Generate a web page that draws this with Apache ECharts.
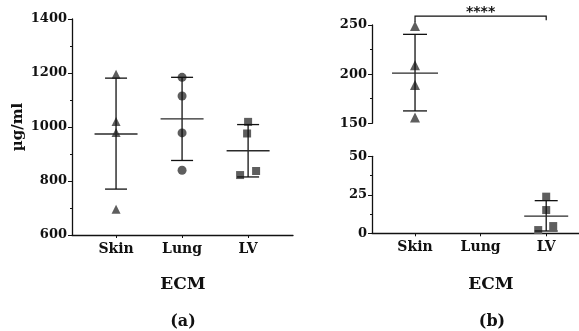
<!DOCTYPE html>
<html>
<head>
<meta charset="utf-8">
<script src="https://cdn.jsdelivr.net/npm/echarts@6/dist/echarts.min.js"></script>
<style>
html,body{margin:0;padding:0;background:#fff;}
#c{width:579px;height:331px;}
</style>
</head>
<body>
<div id="c"></div>
<script>
// ---- data ----
var categories = ['Skin', 'Lung', 'LV'];
// Panel (a) — µg/ml
var aSkin = [1195, 1020, 980, 695];
var aLung = [1184, 1115, 978, 840];
var aLV   = [1019, 976, 822, 837];
var aMean = [974, 1030, 912];
var aLow  = [770, 876, 815];
var aHigh = [1181, 1184, 1009];
var aTicks = [600, 800, 1000, 1200, 1400];
// Panel (b)
var bSkin = [249, 209, 189, 156];
var bLV   = [23.8, 15.1, 4.7, 2.1];
var bMean = [201, null, 11.2];
var bLow  = [162.6, null, 1.5];
var bHigh = [240.5, null, 21.2];
var bTicksUpper = [150, 200, 250];
var bTicksLower = [0, 25, 50];
var sigLabel = '****';
var sigLevel = 259;

// ---- styles ----
var FONT = 'DejaVu Serif';
var markerColor = '#5e5e5e';
var lineColor = '#111';
var aLVoffset = [0, -1, -8, 8];
var bLVoffset = [0, 0, 7, -8];

function pts(catIdx, vals, offs) {
  return vals.map(function (v, i) {
    var d = { value: [catIdx + 1, v] };
    if (offs) d.symbolOffset = [offs[i], 0];
    return d;
  });
}
function errData(means, lows, highs) {
  var out = [];
  means.forEach(function (m, i) {
    if (m == null) return;
    out.push([i + 1, m, lows[i], highs[i]]);
  });
  return out;
}
function errRender(capHalf, meanHalf) {
  return function (params, api) {
    var x = api.value(0);
    var pm = api.coord([x, api.value(1)]);
    var pl = api.coord([x, api.value(2)]);
    var ph = api.coord([x, api.value(3)]);
    var st = { stroke: lineColor, lineWidth: 1.3 };
    return {
      type: 'group',
      children: [
        { type: 'line', shape: { x1: pl[0], y1: pl[1], x2: ph[0], y2: ph[1] }, style: st },
        { type: 'line', shape: { x1: pl[0] - capHalf, y1: pl[1], x2: pl[0] + capHalf, y2: pl[1] }, style: st },
        { type: 'line', shape: { x1: ph[0] - capHalf, y1: ph[1], x2: ph[0] + capHalf, y2: ph[1] }, style: st },
        { type: 'line', shape: { x1: pm[0] - meanHalf, y1: pm[1], x2: pm[0] + meanHalf, y2: pm[1] }, style: { stroke: '#2a2a2a', lineWidth: 1.3 } }
      ]
    };
  };
}

var labelStyle = { fontFamily: FONT, fontWeight: 'bold', fontSize: 13, color: '#111' };
function xAxisCfg(grid, min, max, show) {
  return {
    type: 'value', gridIndex: grid, min: min, max: max, show: show,
    splitLine: { show: false },
    axisLine: { show: true, lineStyle: { color: lineColor, width: 1.3 } },
    axisTick: { show: true, customValues: [1, 2, 3], length: 3, lineStyle: { color: lineColor } },
    axisLabel: Object.assign({}, labelStyle, { customValues: [1, 2, 3], margin: 7, fontSize: 14,
      formatter: function (v) { return categories[Math.round(v) - 1]; } })
  };
}
function yAxisCfg(grid, ticks, extra) {
  return Object.assign({
    type: 'value', gridIndex: grid, min: ticks[0], max: ticks[ticks.length - 1],
    interval: ticks[1] - ticks[0],
    splitLine: { show: false },
    axisLine: { show: true, lineStyle: { color: lineColor, width: 1.3 } },
    axisTick: { show: true, length: 4, lineStyle: { color: lineColor } },
    minorTick: { show: true, splitNumber: 2, length: 2, lineStyle: { color: lineColor } },
    axisLabel: Object.assign({}, labelStyle, { margin: 5, formatter: function (v) { return String(v); } })
  }, extra || {});
}

var chart = echarts.init(document.getElementById('c'), null, { renderer: 'canvas' });
chart.setOption({
  animation: false,
  backgroundColor: '#fff',
  grid: [
    { left: 72, top: 19, width: 221, height: 216 },
    { left: 372, top: 25, right: 0, height: 98.3 },
    { left: 372, top: 156.3, right: 0, height: 77 }
  ],
  xAxis: [
    xAxisCfg(0, 0.333, 3.68, true),
    xAxisCfg(1, 0.344, 3.5, false),
    xAxisCfg(2, 0.344, 3.5, true)
  ],
  yAxis: [
    yAxisCfg(0, aTicks, { name: 'µg/ml', nameLocation: 'middle', nameRotate: 90, nameGap: 46,
      nameTextStyle: { fontFamily: FONT, fontWeight: 'bold', fontSize: 15, color: '#111' } }),
    yAxisCfg(1, bTicksUpper),
    yAxisCfg(2, bTicksLower)
  ],
  series: [
    { type: 'scatter', xAxisIndex: 0, yAxisIndex: 0, symbol: 'triangle', symbolSize: 9,
      itemStyle: { color: markerColor, opacity: 1 }, data: pts(0, aSkin) },
    { type: 'scatter', xAxisIndex: 0, yAxisIndex: 0, symbol: 'circle', symbolSize: 9,
      itemStyle: { color: markerColor, opacity: 1 }, data: pts(1, aLung) },
    { type: 'scatter', xAxisIndex: 0, yAxisIndex: 0, symbol: 'rect', symbolSize: 8,
      itemStyle: { color: markerColor, opacity: 1 }, data: pts(2, aLV, aLVoffset) },
    { type: 'custom', xAxisIndex: 0, yAxisIndex: 0, z: 5, renderItem: errRender(11, 21.5),
      data: errData(aMean, aLow, aHigh) },

    { type: 'scatter', xAxisIndex: 1, yAxisIndex: 1, symbol: 'triangle', symbolSize: 10,
      itemStyle: { color: markerColor, opacity: 1 }, data: pts(0, bSkin) },
    { type: 'custom', xAxisIndex: 1, yAxisIndex: 1, z: 5, renderItem: errRender(12, 23),
      data: errData(bMean.slice(0, 1), bLow.slice(0, 1), bHigh.slice(0, 1)) },
    { type: 'scatter', xAxisIndex: 2, yAxisIndex: 2, symbol: 'rect', symbolSize: 8,
      itemStyle: { color: markerColor, opacity: 1 }, data: pts(2, bLV, bLVoffset) },
    { type: 'custom', xAxisIndex: 2, yAxisIndex: 2, z: 5, renderItem: errRender(11.5, 22),
      data: errData([null, null, bMean[2]], [null, null, bLow[2]], [null, null, bHigh[2]]) },
    // significance bracket
    { type: 'custom', xAxisIndex: 1, yAxisIndex: 1, clip: false, z: 5,
      data: [[1, 3, sigLevel]],
      renderItem: function (params, api) {
        var p1 = api.coord([api.value(0), api.value(2)]);
        var p2 = api.coord([api.value(1), api.value(2)]);
        return { type: 'group', children: [
          { type: 'polyline', shape: { points: [[p1[0], p1[1] + 6], [p1[0], p1[1]], [p2[0], p2[1]], [p2[0], p2[1] + 4]] },
            style: { stroke: lineColor, lineWidth: 1.2, fill: null } },
          { type: 'text', x: (p1[0] + p2[0]) / 2, y: p1[1] - 4,
            style: { text: sigLabel, fontFamily: 'DejaVu Sans', fontWeight: 'bold', fontSize: 14,
              fill: '#111', align: 'center', verticalAlign: 'middle' } }
        ] };
      }
    }
  ],
  graphic: [
    { type: 'text', x: 183, y: 285, style: { text: 'ECM', fontFamily: FONT, fontWeight: 'bold', fontSize: 17, fill: '#111', align: 'center', verticalAlign: 'middle' } },
    { type: 'text', x: 183, y: 322, style: { text: '(a)', fontFamily: FONT, fontWeight: 'bold', fontSize: 16, fill: '#111', align: 'center', verticalAlign: 'middle' } },
    { type: 'text', x: 491, y: 285, style: { text: 'ECM', fontFamily: FONT, fontWeight: 'bold', fontSize: 17, fill: '#111', align: 'center', verticalAlign: 'middle' } },
    { type: 'text', x: 492, y: 322, style: { text: '(b)', fontFamily: FONT, fontWeight: 'bold', fontSize: 16, fill: '#111', align: 'center', verticalAlign: 'middle' } }
  ]
});
</script>
</body>
</html>
